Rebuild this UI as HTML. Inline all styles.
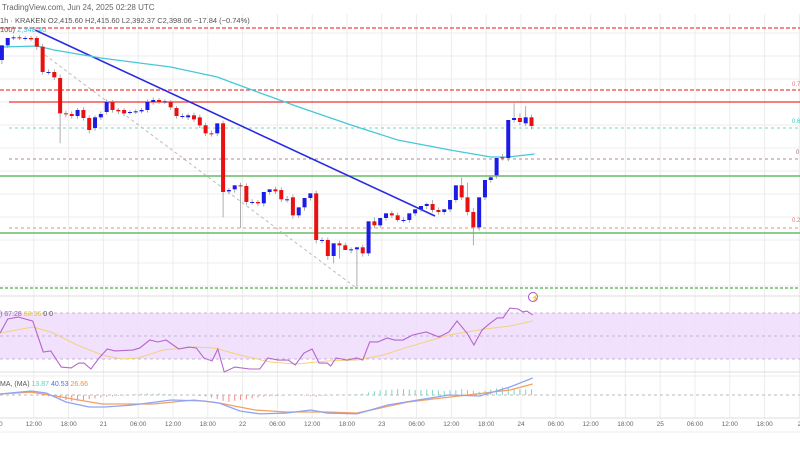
<!DOCTYPE html>
<html><head><meta charset="utf-8"><style>
body{margin:0;background:#fff;width:800px;height:450px;overflow:hidden;font-family:"Liberation Sans",sans-serif}
svg text{font-family:"Liberation Sans",sans-serif}
</style></head><body>
<svg id="chart" width="800" height="450" viewBox="0 0 800 450" xmlns="http://www.w3.org/2000/svg">
<rect x="0" y="0" width="800" height="450" fill="#fff"/>
<g id="grid"></g>
<g id="levels"></g>
<g id="price"></g>
<g id="rsi"></g>
<g id="macd"></g>
<g id="axis"></g>
<text x="2" y="10" font-size="8" fill="#666">TradingView.com, Jun 24, 2025 02:28 UTC</text>
<text x="0" y="23" font-size="7.5" fill="#555">1h · KRAKEN  O2,415.60  H2,415.60  L2,392.37  C2,398.06  −17.84 (−0.74%)</text>
<text x="0" y="32" font-size="7.5" fill="#555">100)  <tspan fill="#3cc6d6">2,348.40</tspan></text>
<text x="0" y="316" font-size="7" fill="#9c4fc0">)  67.28  <tspan fill="#e6c34a">68.56</tspan>  <tspan fill="#555">0  0</tspan></text>
<text x="0" y="386" font-size="7" fill="#555">MA, (MA)  <tspan fill="#5fd0c0">13.87</tspan>  <tspan fill="#4a6cf0">40.53</tspan>  <tspan fill="#f28c3c">26.66</tspan></text>
<text x="792" y="86" font-size="6" fill="#d77">0.7</text>
<text x="792" y="123" font-size="6" fill="#3cb">0.6</text>
<text x="796" y="154" font-size="6" fill="#977">0</text>
<text x="792" y="222" font-size="6" fill="#d77">0.2</text>
<g><circle cx="533" cy="297" r="4.5" fill="#fff" stroke="#a04fd0" stroke-width="1"/><text x="531" y="300" font-size="7" fill="#a04fd0">⚡</text></g>
</svg>
<script>
const O=[2490,2512,2523,2524,2523,2523,2523,2510,2472,2472,2463,2410,2409,2406,2415,2403,2388,2404,2412,2427,2415,2415,2412,2412,2413,2415,2427,2430,2428,2427,2418,2406,2404,2407,2404,2392,2380,2380,2395,2293,2296,2302,2301,2277,2277,2275,2292,2296,2295,2281,2284,2257,2269,2283,2290,2220,2220,2196,2215,2212,2205,2206,2209,2200,2248,2242,2253,2260,2257,2250,2250,2260,2266,2271,2274,2265,2262,2266,2280,2302,2284,2262,2239,2284,2310,2317,2344,2343,2400,2403,2395,2404];
const C=[2512,2523,2524,2523,2523,2521,2510,2472,2472,2464,2410,2409,2406,2415,2403,2385,2404,2409,2427,2415,2413,2410,2412,2413,2415,2427,2430,2427,2428,2419,2406,2406,2407,2401,2392,2380,2379,2395,2292,2295,2302,2301,2277,2277,2275,2292,2296,2293,2281,2281,2257,2269,2283,2290,2220,2220,2196,2215,2212,2205,2206,2209,2200,2248,2242,2253,2260,2257,2250,2250,2260,2266,2271,2274,2265,2262,2266,2280,2302,2284,2262,2239,2284,2310,2314,2343,2343,2400,2403,2397,2404,2391];
const H=[2495,2516,2527,2527,2526,2526,2526,2514,2476,2476,2468,2414,2413,2418,2419,2407,2407,2413,2431,2430,2418,2418,2415,2416,2418,2431,2434,2433,2431,2430,2421,2410,2410,2411,2408,2396,2384,2384,2399,2298,2300,2306,2305,2281,2280,2279,2296,2300,2299,2286,2288,2262,2273,2287,2294,2224,2224,2200,2219,2216,2209,2210,2213,2204,2254,2250,2257,2264,2261,2254,2254,2264,2270,2276,2280,2269,2266,2270,2284,2314,2306,2268,2264,2290,2316,2322,2349,2348,2425,2410,2421,2408];
const L=[2484,2508,2520,2520,2519,2518,2505,2468,2468,2460,2365,2404,2402,2402,2399,2380,2384,2400,2408,2411,2409,2406,2408,2409,2410,2411,2423,2424,2424,2415,2402,2402,2400,2397,2388,2376,2375,2376,2254,2289,2291,2238,2272,2273,2271,2270,2288,2289,2277,2276,2252,2253,2264,2279,2215,2215,2190,2185,2192,2207,2200,2150,2195,2196,2238,2238,2249,2253,2247,2246,2246,2256,2262,2266,2261,2258,2258,2262,2276,2280,2257,2212,2234,2280,2306,2312,2339,2338,2396,2392,2391,2386];
const emaHours=[0,6,9,17,29,37,43,51,60,68,77,84,87,91.5];
const emaVals=[2509.5,2511,2505,2493,2479.5,2464.5,2445,2419.5,2392.5,2370,2355,2344.5,2344.5,2349];
const rsiHours=[0.2,1.5,3.3,5.8,7.6,8.9,10.7,12.4,13.7,14.6,15.8,17.2,18.6,19.9,23,24.2,25.9,27.3,28.7,30.9,32.6,33.9,35.2,36.6,37.6,38.7,40.5,43.1,44.8,46.2,47.9,49.7,50.9,52.4,53.8,55,56.4,57,57.9,59.8,61.5,62.5,63.7,65.1,66.7,68,69.4,71.1,73.4,75.6,77.3,78.7,80.4,81.6,83,84.2,85.6,86.6,87.8,89.2,90,90.7,91.7];
const rsiVals=[52.6,64.8,66.5,63,36.1,37,23,22.2,26.5,26.5,21.3,30.9,38.7,37,37.8,39.6,46.5,44.8,46.5,38.7,40.4,39.6,30.9,28.3,38.7,18.7,23,21.3,21.3,30.9,29.1,29.1,24.8,35.2,38.7,26.5,26.5,23.9,30.9,29.1,30.9,29.1,44.8,44.8,48.3,46.5,46.5,50.9,53.5,49.1,53.5,63,52.6,42.2,55.2,60.4,65.7,65.7,74.3,73.5,70.9,71.7,68.3];
const rsiMaHours=[0.2,5.8,8.9,13.4,17.7,21.1,23.9,28.2,33.5,37,41.4,46.6,51,56.4,61.5,66,70.3,77.3,83.5,87.8,91.7];
const rsiMaVals=[52.6,57.8,53.5,42.2,33.5,30,30.9,37.8,40.4,39.6,33.5,27.4,25.7,28.3,29.1,33.5,40.4,50.9,56.1,58.7,63];
const macdHours=[0.2,5.5,8.1,11.5,15.5,18.2,23,29.6,35.2,37.8,41.4,44.8,49.3,53.6,56.4,61.5,66.8,72,77.3,82.6,87.8,91.7];
const macdVals=[2.4,9.5,4.8,-16.7,-28.6,-28.6,-23.8,-11.9,-14.3,-19,-38,-45,-43,-35.7,-43,-45,-23.8,-11.9,0,-2.4,19,40.5];
const sigHours=[0.2,5.5,10.7,17.7,26.5,33.5,37.8,44,49.3,56.4,61.5,70.3,79,87.8,91.7];
const sigVals=[2.4,7,-4.8,-21.4,-21.4,-11.9,-19,-35.7,-40.5,-40.5,-43,-16.7,-2.4,11.9,26.2];
const histVals=[0,1,2,2,1,0,-1,-2,-3,-5,-8,-12,-15,-14,-12,-10,-8,-6,-4,-3,-2,-1,0,2,3,4,3,4,3,2,1,0,0,-1,-2,-3,-6,-10,-14,-16,-14,-12,-10,-8,-6,-4,-3,-2,-1,0,1,0,-1,-3,-4,-2,-1,0,1,0,1,2,3,6,9,11,12,13,14,14,13,12,12,13,12,11,10,11,12,14,12,10,8,10,13,16,18,17,15,14,13,14];
const timeLabels=["00","12:00","18:00","21","06:00","12:00","18:00","22","06:00","12:00","18:00","23","06:00","12:00","18:00","24","06:00","12:00","18:00","25","06:00","12:00","18:00","2"];
const NS="http://www.w3.org/2000/svg";
const xH=h=>-1+5.82*h;
const yP=p=>(2580-p)/1.5;
const yR=v=>336-(v-50)*1.15;
const yM=v=>395-v*0.42;
function mk(tag,attrs,parent){const e=document.createElementNS(NS,tag);for(const k in attrs)e.setAttribute(k,attrs[k]);parent.appendChild(e);return e;}
const grid=document.getElementById('grid'),lev=document.getElementById('levels'),pr=document.getElementById('price'),rs=document.getElementById('rsi'),mc=document.getElementById('macd'),ax=document.getElementById('axis');
// grid
for(let i=0;i<timeLabels.length;i++){const x=-1+34.8*i;const l=mk('line',{x1:x,x2:x,y1:14,y2:418,stroke:'#ececec','stroke-width':1},grid);

const t=mk('text',{x:x,y:426,'font-size':6.5,fill:'#666','text-anchor':'middle'},ax);t.textContent=timeLabels[i];
}
for(let y=33;y<296;y+=23){const l=mk('line',{x1:0,x2:800,y1:y,y2:y,stroke:'#ececec'},grid);}
[[296,'#ddd'],[372,'#ddd'],[376,'#eee'],[418,'#ddd'],[432,'#eee']].forEach(s=>{const l=mk('line',{x1:0,x2:800,y1:s[0],y2:s[0],stroke:s[1]},grid);});
// levels
const levels=[[28,0,'#ee4444','4 2',1.2],[90,0,'#ee4444','4 2',1.2],[102,9,'#ee3333','',1.2],[128,9,'#66ddcc','3 3',1],[159,9,'#b08888','3 3',1],[176,0,'#66bb66','',1.5],[228,9,'#ee8888','3 3',1],[233,0,'#66bb66','',1.5],[288,0,'#66bb66','3 2',1.5]];
levels.forEach(v=>{const l=mk('line',{x1:v[1],x2:800,y1:v[0],y2:v[0],stroke:v[2],'stroke-width':v[4]},lev);if(v[3])l.setAttribute('stroke-dasharray',v[3]);
});
// trendlines
let tl=mk('line',{x1:35,y1:30,x2:435,y2:216,stroke:'#2a2ae0','stroke-width':1.6},pr);
tl=mk('line',{x1:45,y1:55,x2:355,y2:287,stroke:'#bbb','stroke-width':1,'stroke-dasharray':'3 3'},pr);
// EMA
let pts=emaHours.map((h,i)=>xH(h+0.5)+','+yP(emaVals[i])).join(' ');
let pl=mk('polyline',{points:pts,fill:'none',stroke:'#45c8d8','stroke-width':1.3},pr);
// candles
const n=Math.min(O.length,C.length,H.length,L.length);
for(let i=0;i<n;i++){const x=xH(i+0.5);const up=C[i]>=O[i];const col=up?'#1c1ce6':'#e81010';
const w=mk('line',{x1:x,x2:x,y1:yP(H[i]),y2:yP(L[i]),stroke:'#999','stroke-width':0.8},pr);
const t=yP(Math.max(O[i],C[i])),b=yP(Math.min(O[i],C[i]));
const r=mk('rect',{x:x-2,y:t,width:4,height:Math.max(1,b-t),fill:col},pr);}
// RSI
let band=mk('rect',{x:0,y:yR(70),width:800,height:yR(30)-yR(70),fill:'#eedcfb',opacity:0.85},rs);
[70,50,30].forEach(v=>{const l=mk('line',{x1:0,x2:800,y1:yR(v),y2:yR(v),stroke:'#c8b4d8','stroke-dasharray':'3 3'},rs);});
pts=rsiMaHours.map((h,i)=>xH(h)+','+yR(rsiMaVals[i])).join(' ');
pl=mk('polyline',{points:pts,fill:'none',stroke:'#f2d27a','stroke-width':1},rs);
pts=rsiHours.map((h,i)=>xH(h)+','+yR(rsiVals[i])).join(' ');
pl=mk('polyline',{points:pts,fill:'none',stroke:'#b466cc','stroke-width':1.1},rs);
// MACD
let z=mk('line',{x1:0,x2:800,y1:yM(0),y2:yM(0),stroke:'#bbb','stroke-dasharray':'3 3'},mc);
histVals.forEach((v,i)=>{const x=xH(i+0.5);const l=mk('line',{x1:x,x2:x,y1:yM(0),y2:yM(v),stroke:v>=0?'#7fd3c6':'#f08a88','stroke-width':1},mc);});
pts=sigHours.map((h,i)=>xH(h)+','+yM(sigVals[i])).join(' ');
pl=mk('polyline',{points:pts,fill:'none',stroke:'#f4a060','stroke-width':1.3},mc);
pts=macdHours.map((h,i)=>xH(h)+','+yM(macdVals[i])).join(' ');
pl=mk('polyline',{points:pts,fill:'none',stroke:'#8fa4f4','stroke-width':1.3},mc);
</script>
</body></html>
